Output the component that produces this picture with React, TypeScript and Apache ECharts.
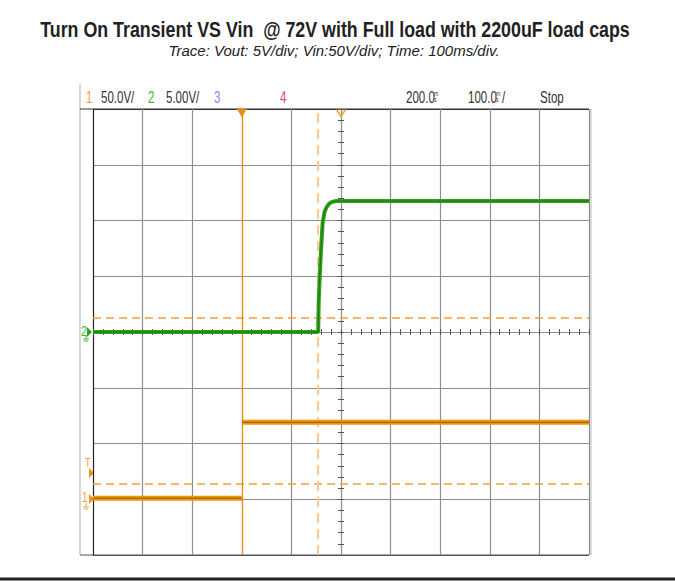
import React, { useEffect, useRef } from "react";
import * as echarts from "echarts";

// ---- Data (time in ms, voltages in V); null = pen lifted (instant step) ----
const vinTime = [0, 300, 300.2, 300.5, 1000];
const vinVolts: (number | null)[] = [0, 0, null, 68, 68];
const voutTime = [0, 454, 455, 456, 458, 460, 463, 467, 471, 476, 481, 490, 1000];
const voutVolts = [0, 0, 2.6, 3.8, 5.8, 7.6, 9.8, 10.8, 11.2, 11.5, 11.65, 11.75, 11.75];

// scope settings
const vinVoltsPerDiv = 50;
const voutVoltsPerDiv = 5;
const vinGroundDiv = 1.02;
const voutGroundDiv = 4.0;
const triggerTimeMs = 300;
const cursorTimeMs = 453.6;
const centerTimeMs = 500;
const triggerLevelsDiv = [4.25, 1.27];

const headerLeft = [
  { text: "1", color: "#f5a040", x: 86 },
  { text: "50.0V/", color: "#333", x: 101 },
  { text: "2", color: "#3cb832", x: 148 },
  { text: "5.00V/", color: "#333", x: 166 },
  { text: "3", color: "#7f8ff0", x: 214 },
  { text: "4", color: "#f0409a", x: 280 },
];

const TITLE = "Turn On Transient VS Vin  @ 72V with Full load with 2200uF load caps";
const SUBTITLE = "Trace: Vout: 5V/div; Vin:50V/div; Time: 100ms/div.";

const GL = 93, GT = 109, GW = 496, GH = 446;
const SANS = "'Liberation Sans', Arial, sans-serif";
const HS = 0.72; // horizontal squeeze for scope header text

export default function App() {
  const ref = useRef<HTMLDivElement>(null);
  useEffect(() => {
    if (!ref.current) return;
    const chart = echarts.init(ref.current, undefined, { renderer: "svg" });

    const vinData = vinTime.map((t, i) => {
      const v = vinVolts[i];
      return v === null ? [t, null] : [t, vinGroundDiv + v / vinVoltsPerDiv];
    });
    const voutData = voutTime.map((t, i) => [t, voutGroundDiv + voutVolts[i] / voutVoltsPerDiv]);

    const xSplitColors = Array.from({ length: 11 }, (_, i) => (i === 0 ? "#222" : "#8e8e8e"));
    const ySplitColors = Array.from({ length: 9 }, (_, i) => (i === 0 ? "#555" : i === 8 ? "#333" : "#8e8e8e"));

    const hidden = { show: false };
    const noLine = { show: false, onZero: false };
    const tickStyle = { show: true, inside: true, length: 3, lineStyle: { color: "#555", width: 1 } };
    const minorStyle = { show: true, splitNumber: 5, length: 3, lineStyle: { color: "#555", width: 1 } };
    const tickAxisX = (gridIndex: number, position: string) => ({
      type: "value", gridIndex, position, min: 0, max: 10, interval: 1,
      axisLine: noLine, axisLabel: hidden, splitLine: hidden,
      axisTick: tickStyle, minorTick: minorStyle,
    });
    const tickAxisY = (gridIndex: number, position: string) => ({
      type: "value", gridIndex, position, min: 0, max: 8, interval: 1,
      axisLine: noLine, axisLabel: hidden, splitLine: hidden,
      axisTick: tickStyle, minorTick: minorStyle,
    });
    const hiddenX = (gridIndex: number) => ({ type: "value", gridIndex, min: 0, max: 10, show: false, axisLine: noLine });
    const hiddenY = (gridIndex: number) => ({ type: "value", gridIndex, min: 0, max: 8, show: false, axisLine: noLine });

    const hText = (text: string, x: number, color = "#333") => ({
      type: "text", x, y: 97, scaleX: HS,
      style: { text, fill: color, font: `16px ${SANS}`, textVerticalAlign: "middle" },
    });
    const stack = (x: number) => ({
      type: "text", x, y: 96, scaleX: HS,
      style: {
        text: "m\ns", fill: "#333", font: `7px ${SANS}`, lineHeight: 6,
        textVerticalAlign: "middle",
      },
    });

    chart.setOption({
      animation: false,
      backgroundColor: "#ffffff",
      grid: [
        { left: GL, top: GT, width: GW, height: GH },
        { left: GL, top: GT, width: GW, height: GH / 2 },
        { left: GL, top: GT + GH / 2, width: GW, height: GH / 2 },
        { left: GL, top: GT, width: GW / 2, height: GH },
        { left: GL + GW / 2, top: GT, width: GW / 2, height: GH },
      ],
      xAxis: [
        {
          type: "value", gridIndex: 0, min: 0, max: 1000, interval: 100,
          axisLine: noLine, axisTick: hidden, axisLabel: hidden,
          splitLine: { show: true, lineStyle: { color: xSplitColors, width: 1.2 } },
        },
        tickAxisX(1, "bottom"),
        tickAxisX(2, "top"),
        hiddenX(3),
        hiddenX(4),
      ],
      yAxis: [
        {
          type: "value", gridIndex: 0, min: 0, max: 8, interval: 1,
          axisLine: noLine, axisTick: hidden, axisLabel: hidden,
          splitLine: { show: true, lineStyle: { color: ySplitColors, width: 1.2 } },
        },
        hiddenY(1),
        hiddenY(2),
        tickAxisY(3, "right"),
        tickAxisY(4, "left"),
      ],
      series: [
        {
          name: "markers", type: "line", data: [], xAxisIndex: 0, yAxisIndex: 0, silent: true,
          markLine: {
            silent: true, symbol: "none", label: { show: false },
            data: [
              { yAxis: triggerLevelsDiv[0], lineStyle: { color: "#f6a033", type: [8, 5], width: 1.5 } },
              { yAxis: triggerLevelsDiv[1], lineStyle: { color: "#f6a033", type: [8, 5], width: 1.5 } },
              { xAxis: triggerTimeMs, lineStyle: { color: "#f08c00", type: "solid", width: 1.2 } },
              { xAxis: cursorTimeMs, lineStyle: { color: "#fcc994", type: [10, 6], width: 2 } },
            ],
          },
          markPoint: {
            silent: true, label: { show: false },
            data: [
              { coord: [triggerTimeMs, 8], symbol: "triangle", symbolRotate: 180, symbolSize: [10, 8], symbolOffset: [0, 4], itemStyle: { color: "#f08c00" } },
              { coord: [centerTimeMs, 8], symbol: "path://M0,0 L5,7 L10,0", symbolSize: [9, 7], symbolOffset: [0, 4], itemStyle: { color: "none", borderColor: "#f5a030", borderWidth: 1.5 } },
            ],
          },
        },
        {
          name: "Vin", type: "line", data: vinData, showSymbol: false, z: 5, connectNulls: false,
          lineStyle: { color: "#f0950e", width: 5 },
        },
        {
          name: "Vin-core", type: "line", data: vinData, showSymbol: false, z: 6, silent: true, connectNulls: false,
          lineStyle: { color: "rgba(70,45,0,0.55)", width: 1 },
        },
        {
          name: "Vout", type: "line", data: voutData, showSymbol: false, z: 5,
          lineStyle: { color: "#2fa31a", width: 4 },
        },
        {
          name: "Vout-core", type: "line", data: voutData, showSymbol: false, z: 6, silent: true,
          lineStyle: { color: "rgba(20,80,10,0.6)", width: 1 },
        },
      ],
      graphic: [
        { type: "text", x: 335, y: 29, scaleX: 0.81, style: { text: TITLE, fill: "#222", font: `bold 22px ${SANS}`, textAlign: "center", textVerticalAlign: "middle" } },
        { type: "text", x: 334, y: 50, style: { text: SUBTITLE, fill: "#222", font: `italic 15px ${SANS}`, textAlign: "center", textVerticalAlign: "middle" } },
        // frame
        { type: "line", shape: { x1: 80, y1: 84, x2: 80, y2: 555 }, style: { stroke: "#b0b0b0", lineWidth: 1 } },
        { type: "line", shape: { x1: 80, y1: 109, x2: 589, y2: 109 }, style: { stroke: "#333", lineWidth: 1.2 } },
        { type: "line", shape: { x1: 80, y1: 555, x2: 589, y2: 555 }, style: { stroke: "#555", lineWidth: 1.2 } },
        { type: "line", shape: { x1: 591, y1: 109, x2: 591, y2: 555 }, style: { stroke: "#bbb", lineWidth: 1 } },
        { type: "line", shape: { x1: 0, y1: 579, x2: 675, y2: 579 }, style: { stroke: "#222", lineWidth: 3 } },
        ...headerLeft.map((h) => hText(h.text, h.x, h.color)),
        hText("200.0", 406),
        stack(434),
        hText("100.0", 468),
        stack(496),
        hText("/", 502),
        hText("Stop", 540),
        // left channel markers
        { type: "text", x: 81, y: 331, scaleX: HS, style: { text: "2", fill: "#3cb832", font: `15px ${SANS}`, textVerticalAlign: "middle" } },
        { type: "polygon", shape: { points: [[87, 327], [92, 332], [87, 337]] }, style: { fill: "#2fa31a" } },
        { type: "line", shape: { x1: 86, y1: 335, x2: 86, y2: 339 }, style: { stroke: "#3cb832", lineWidth: 1 } },
        { type: "line", shape: { x1: 83, y1: 339, x2: 89, y2: 339 }, style: { stroke: "#3cb832", lineWidth: 1 } },
        { type: "line", shape: { x1: 84, y1: 341, x2: 88, y2: 341 }, style: { stroke: "#3cb832", lineWidth: 1 } },
        { type: "text", x: 85, y: 462, scaleX: HS, style: { text: "T", fill: "#f5a040", font: `13px ${SANS}`, textVerticalAlign: "middle" } },
        { type: "polygon", shape: { points: [[89, 468], [94, 473], [89, 478]] }, style: { fill: "#f0950e" } },
        { type: "text", x: 82, y: 497, scaleX: HS, style: { text: "1", fill: "#f5a040", font: `14px ${SANS}`, textVerticalAlign: "middle" } },
        { type: "polygon", shape: { points: [[89, 494], [94, 499], [89, 504]] }, style: { fill: "#f0950e" } },
        { type: "line", shape: { x1: 86, y1: 503, x2: 86, y2: 507 }, style: { stroke: "#f5a040", lineWidth: 1 } },
        { type: "line", shape: { x1: 83, y1: 507, x2: 89, y2: 507 }, style: { stroke: "#f5a040", lineWidth: 1 } },
        { type: "line", shape: { x1: 84, y1: 509, x2: 88, y2: 509 }, style: { stroke: "#f5a040", lineWidth: 1 } },
      ],
    });
    return () => chart.dispose();
  }, []);
  return <div ref={ref} style={{ width: 675, height: 581, position: "absolute", left: 0, top: 0 }} />;
}
